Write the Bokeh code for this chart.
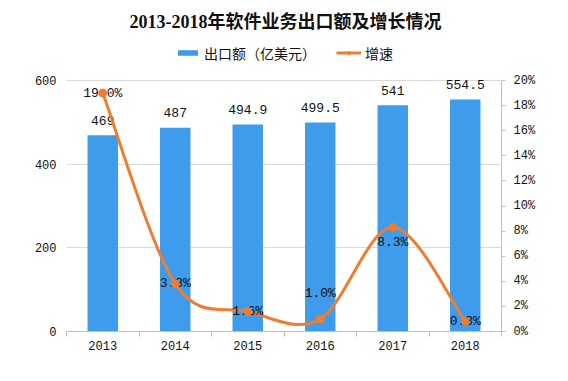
import numpy as np
from bokeh.plotting import figure
from bokeh.models import (Range1d, LinearAxis, FixedTicker, PrintfTickFormatter,
                          Label, Legend, LegendItem, ColumnDataSource)
from bokeh.core.properties import value
from bokeh.embed import file_html
from bokeh.resources import INLINE

# ---- data ----
years = ["2013", "2014", "2015", "2016", "2017", "2018"]
export_value = [469, 487, 494.9, 499.5, 541, 554.5]          # 出口额（亿美元）
growth_pct = [19.0, 3.8, 1.6, 1.0, 8.3, 0.8]                  # 增速 (%)
left_ticks = [0, 200, 400, 600]
right_ticks = [0, 2, 4, 6, 8, 10, 12, 14, 16, 18, 20]
left_max, right_max = 600, 20

title_text = "2013-2018年软件业务出口额及增长情况"
bar_name = "出口额（亿美元）"
line_name = "增速"

# ---- layout (pixels) ----
W, H = 552, 365
FRAME_TOP, PLOT_TOP, FRAME_BOTTOM = 5, 80, 331
FRAME_LEFT, FRAME_RIGHT = 66, 501
frame_h = FRAME_BOTTOM - FRAME_TOP
plot_h = FRAME_BOTTOM - PLOT_TOP
stretch = frame_h / plot_h

pct_label_dy = [0, 0, 0, -25, 15, 0]

BLUE = "#3F9BEC"
ORANGE = "#ED7D31"
GRID = "#D9D9D9"
AXIS = "#BFBFBF"
NUM_FONT = "Liberation Mono"
CJK_FONT = "Noto Sans CJK SC"

n = len(years)
centers = np.arange(n) + 0.5
bounds = list(np.arange(n + 1).astype(float))

p = figure(width=W, height=H, output_backend="svg", toolbar_location=None,
           x_range=Range1d(0, n), y_range=Range1d(0, left_max * stretch),
           min_border_left=FRAME_LEFT, min_border_right=W - FRAME_RIGHT,
           min_border_top=FRAME_TOP, min_border_bottom=H - FRAME_BOTTOM)
p.extra_y_ranges = {"pct": Range1d(0, right_max * stretch)}
p.outline_line_color = None
p.background_fill_color = "white"
p.border_fill_color = "white"

# grid
p.xgrid.visible = False
p.ygrid.ticker = FixedTicker(ticks=left_ticks)
p.ygrid.grid_line_color = GRID
p.ygrid.grid_line_width = 1

# bottom axis
xa = p.xaxis[0]
xa.ticker = FixedTicker(ticks=list(centers), minor_ticks=bounds)
xa.major_label_overrides = {float(c): y for c, y in zip(centers, years)}
xa.major_tick_line_color = None
xa.major_tick_out = 0
xa.major_tick_in = 0
xa.minor_tick_line_color = AXIS
xa.minor_tick_out = 5
xa.minor_tick_in = 0
xa.axis_line_color = AXIS
xa.major_label_standoff = 4
xa.major_label_text_font = NUM_FONT
xa.major_label_text_font_size = "12px"
xa.major_label_text_color = "#111111"

# left axis
ya = p.yaxis[0]
ya.ticker = FixedTicker(ticks=left_ticks)
ya.axis_line_color = None
ya.major_tick_line_color = None
ya.minor_tick_line_color = None
ya.major_tick_out = 0
ya.major_label_standoff = 10
ya.major_label_text_font = NUM_FONT
ya.major_label_text_font_size = "12px"
ya.major_label_text_color = "#111111"

# right axis
ra = LinearAxis(y_range_name="pct", ticker=FixedTicker(ticks=right_ticks),
                formatter=PrintfTickFormatter(format="%d%%"),
                bounds=(0, right_max))
ra.axis_line_color = AXIS
ra.major_tick_line_color = AXIS
ra.major_tick_out = 4
ra.major_tick_in = 0
ra.minor_tick_line_color = None
ra.major_label_standoff = 8
ra.major_label_text_font = NUM_FONT
ra.major_label_text_font_size = "12px"
ra.major_label_text_color = "#111111"
p.add_layout(ra, "right")

# bars
bars = p.vbar(x=centers, top=export_value, width=0.42, bottom=0,
              fill_color=BLUE, line_color=None)
p.text(x=centers, y=export_value,
       text=[f"{v:g}" for v in export_value],
       text_align="center", text_baseline="middle", y_offset=-15,
       text_font=value(NUM_FONT), text_font_size="13px", text_color="#111111")

# smoothed growth line (Catmull-Rom bezier segments through the data points)
gx = np.array(centers, dtype=float)
gy = np.array(growth_pct, dtype=float)
px = np.concatenate([[gx[0]], gx, [gx[-1]]])
py = np.concatenate([[gy[0]], gy, [gy[-1]]])
seg = dict(x0=[], y0=[], x1=[], y1=[], cx0=[], cy0=[], cx1=[], cy1=[])
for i in range(n - 1):
    seg["x0"].append(gx[i]); seg["y0"].append(gy[i])
    seg["x1"].append(gx[i + 1]); seg["y1"].append(gy[i + 1])
    seg["cx0"].append(gx[i] + (px[i + 2] - px[i]) / 6)
    seg["cy0"].append(gy[i] + (py[i + 2] - py[i]) / 6)
    seg["cx1"].append(gx[i + 1] - (px[i + 3] - px[i + 1]) / 6)
    seg["cy1"].append(gy[i + 1] - (py[i + 3] - py[i + 1]) / 6)
curve = p.bezier(source=ColumnDataSource(seg), x0="x0", y0="y0", x1="x1", y1="y1",
                 cx0="cx0", cy0="cy0", cx1="cx1", cy1="cy1",
                 line_color=ORANGE, line_width=3, y_range_name="pct")
p.text(x=centers, y=growth_pct, text=[f"{v:.1f}%" for v in growth_pct],
       text_align="center", text_baseline="middle",
       y_offset=pct_label_dy, y_range_name="pct",
       text_font=value(NUM_FONT), text_font_size="13px", text_color="#111111")
dots = p.scatter(x=centers, y=growth_pct, size=8, marker="circle",
                 fill_color=ORANGE, line_color=ORANGE, y_range_name="pct")

# legend (inside the stretched frame, above the plotting region)
legend = Legend(items=[LegendItem(label=bar_name, renderers=[bars]),
                       LegendItem(label=line_name, renderers=[curve, dots])],
                orientation="horizontal",
                location=(175 - FRAME_LEFT, FRAME_BOTTOM - 54.5 - 8),
                glyph_width=25, glyph_height=7, label_height=16,
                label_standoff=4, spacing=20, padding=0, margin=0,
                border_line_color=None, background_fill_alpha=0,
                label_text_font=CJK_FONT, label_text_font_size="14px",
                label_text_color="#111111")
p.add_layout(legend, "center")

# title
p.add_layout(Label(x=285 - FRAME_LEFT, y=FRAME_BOTTOM - 21,
                   x_units="screen", y_units="screen",
                   text=title_text, text_align="center", text_baseline="middle",
                   text_font="Liberation Serif, Noto Sans CJK SC",
                   text_font_size="18px", text_font_style="bold",
                   text_color="#111111"))

open("out.html", "w").write(file_html(p, INLINE))
